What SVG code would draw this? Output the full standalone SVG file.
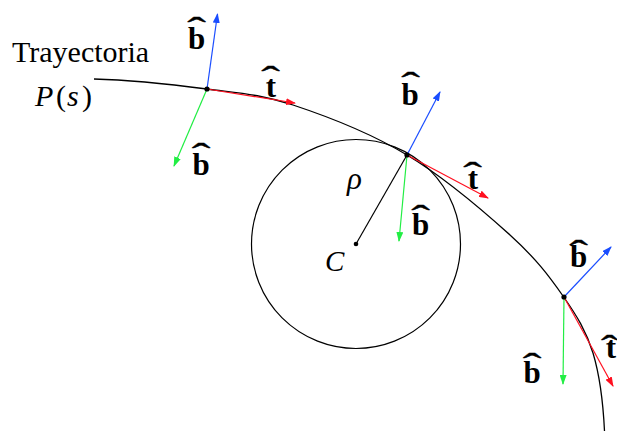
<svg xmlns="http://www.w3.org/2000/svg" width="617" height="431" viewBox="0 0 617 431">
<defs>
<style>
.curve{fill:none;stroke:#000;stroke-width:1.3}
.vec{fill:none;stroke-width:1.2}
.blue{stroke:#1a4dff}.red{stroke:#ff1020}.green{stroke:#22ee44}
.lbl{font-family:"Liberation Serif","Times New Roman",serif;font-size:30px;fill:#000}
.it{font-style:italic}
.bv{font-family:"Liberation Serif","Times New Roman",serif;font-size:31px;font-weight:bold;fill:#000;text-anchor:middle}
.hat{font-family:"Liberation Serif","Times New Roman",serif;font-size:33px;fill:#000;stroke:#000;stroke-width:0.35;text-anchor:middle}
</style>
<marker id="ab" viewBox="0 0 10 7" refX="9" refY="3.5" markerWidth="10" markerHeight="7" markerUnits="userSpaceOnUse" orient="auto"><path d="M0,0 L10,3.5 L0,7 z" fill="#1a4dff"/></marker>
<marker id="ar" viewBox="0 0 10 7" refX="9" refY="3.5" markerWidth="10" markerHeight="7" markerUnits="userSpaceOnUse" orient="auto"><path d="M0,0 L10,3.5 L0,7 z" fill="#ff1020"/></marker>
<marker id="ag" viewBox="0 0 10 7" refX="9" refY="3.5" markerWidth="10" markerHeight="7" markerUnits="userSpaceOnUse" orient="auto"><path d="M0,0 L10,3.5 L0,7 z" fill="#22ee44"/></marker>
</defs>
<rect width="617" height="431" fill="#fff"/>
<g id="trajectory">
<path class="curve" d="M94,79 C132,80 173.8,84.7 207,89 C240.2,93.3 259.7,94 293,105 C326.3,116 370.8,133.3 407,155 C443.2,176.7 484,211.5 510,235 C536,258.5 549.2,276.3 563,296 C576.8,315.7 586.2,331 593,353 C599,373 603,400 604.5,431"/>
</g>
<g id="osculating-circle">
<circle cx="356" cy="244" r="104.5" fill="none" stroke="#000" stroke-width="1.2"/>
</g>
<g id="connectors">
<line x1="356" y1="244" x2="407" y2="155" stroke="#000" stroke-width="1.2"/>
<line class="vec blue" x1="207" y1="89" x2="217.5" y2="14" marker-end="url(#ab)"/>
<line class="vec red" x1="207" y1="89" x2="295" y2="103" marker-end="url(#ar)"/>
<line class="vec green" x1="207" y1="89" x2="174" y2="166" marker-end="url(#ag)"/>
<line class="vec blue" x1="407" y1="155" x2="440" y2="92" marker-end="url(#ab)"/>
<line class="vec red" x1="407" y1="155" x2="488" y2="198" marker-end="url(#ar)"/>
<line class="vec green" x1="407" y1="155" x2="399" y2="241" marker-end="url(#ag)"/>
<line class="vec blue" x1="564" y1="297" x2="611" y2="247" marker-end="url(#ab)"/>
<line class="vec red" x1="564" y1="297" x2="613" y2="386" marker-end="url(#ar)"/>
<line class="vec green" x1="564" y1="297" x2="563" y2="384" marker-end="url(#ag)"/>
</g>
<g id="points">
<circle cx="207" cy="89" r="2.6"/>
<circle cx="407" cy="155" r="2.6"/>
<circle cx="564" cy="297" r="2.6"/>
<circle cx="356" cy="244" r="2.3"/>
</g>
<g id="labels">
<text class="lbl" x="12" y="62">Trayectoria</text>
<text class="lbl" y="106"><tspan class="it" x="35">P</tspan><tspan x="56">(</tspan><tspan class="it" x="67">s</tspan><tspan x="82">)</tspan></text>
<text class="lbl it" x="325" y="271" style="font-size:29px">C</text>
<text class="lbl it" x="347" y="189" style="font-size:31px">ρ</text>
</g>
<g id="unit-vector-labels">
<text class="bv" x="196.5" y="49">b</text><text class="hat" transform="translate(196.5,41.2) scale(1.7,1)">ˆ</text>
<text class="bv" x="201" y="175">b</text><text class="hat" transform="translate(201,167.2) scale(1.7,1)">ˆ</text>
<text class="bv" x="410" y="105">b</text><text class="hat" transform="translate(410.5,95.5) scale(1.7,1)">ˆ</text>
<text class="bv" x="420.5" y="235">b</text><text class="hat" transform="translate(420.5,229.2) scale(1.7,1)">ˆ</text>
<text class="bv" x="578.5" y="267">b</text><text class="hat" transform="translate(578.5,263.9) scale(1.7,1)">ˆ</text>
<text class="bv" x="532" y="383">b</text><text class="hat" transform="translate(532,377.2) scale(1.7,1)">ˆ</text>
<text class="bv" x="271" y="97">t</text><text class="hat" transform="translate(270.5,89.9) scale(1.7,1)">ˆ</text>
<text class="bv" x="473" y="189">t</text><text class="hat" transform="translate(472.5,186.2) scale(1.7,1)">ˆ</text>
<text class="bv" x="611" y="358">t</text><text class="hat" transform="translate(609.5,359.2) scale(1.55,1)">ˆ</text>
</g>
</svg>
